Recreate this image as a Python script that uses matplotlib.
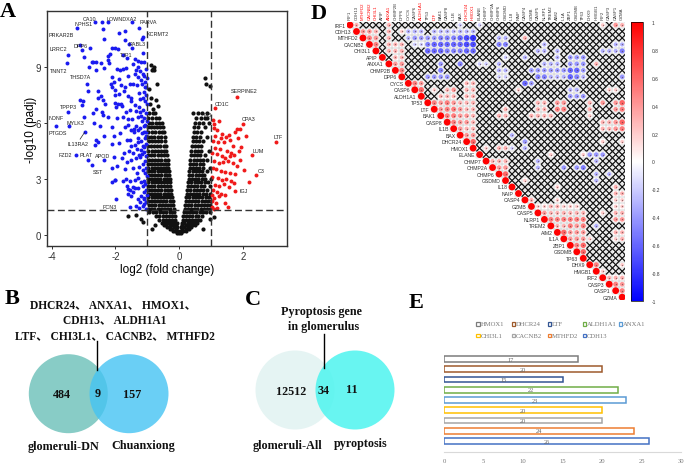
import matplotlib
matplotlib.use("Agg")
import matplotlib.pyplot as plt
from matplotlib.patches import Circle, Rectangle
from matplotlib.collections import LineCollection

plt.rcParams['font.family'] = ['Liberation Sans', 'DejaVu Sans']
plt.rcParams['axes.unicode_minus'] = False

SERIF = ['Liberation Serif', 'Noto Sans CJK SC']
W, H = 685, 464


# panel A: volcano, black points typed as rows (y level -> x values)
black_levels = [0.1, 0.2, 0.3, 0.4, 0.5, 0.6, 0.8, 1.0, 1.2, 1.4, 1.6, 1.8, 2.0, 2.2, 2.4, 2.6, 2.8, 3.0, 3.2,
                3.4, 3.6, 3.8, 4.0, 4.25, 4.5, 4.75, 5.0, 5.25, 5.5, 5.75, 6.0, 6.25, 6.5]
black_rows = [
    [-0.08, 0.0, 0.07],
    [-0.2, -0.12, -0.04, 0.05, 0.11, 0.2],
    [-0.3, -0.22, -0.1, 0.09, 0.22, 0.3],
    [-0.38, -0.28, -0.15, -0.06, 0.06, 0.14, 0.27, 0.38],
    [-0.48, -0.4, -0.3, -0.2, -0.1, 0.09, 0.2, 0.31, 0.4, 0.49],
    [-0.55, -0.45, -0.35, -0.25, -0.15, -0.08, 0.08, 0.16, 0.26, 0.36, 0.47, 0.55],
    [-0.62, -0.52, -0.42, -0.33, -0.23, -0.13, 0.11, 0.2, 0.3, 0.4, 0.5, 0.6, 0.66],
    [-0.72, -0.62, -0.52, -0.42, -0.33, -0.24, -0.14, 0.13, 0.22, 0.32, 0.41, 0.52, 0.6, 0.7],
    [-0.95, -0.82, -0.72, -0.6, -0.5, -0.4, -0.3, -0.22, -0.15, 0.15, 0.24, 0.34, 0.44, 0.54, 0.64, 0.75, 0.85, 0.95],
    [-0.98, -0.88, -0.78, -0.68, -0.58, -0.48, -0.38, -0.28, -0.18, 0.17, 0.27, 0.37, 0.47, 0.57, 0.67, 0.77, 0.87, 0.97],
    [-0.96, -0.85, -0.75, -0.65, -0.55, -0.45, -0.35, -0.26, -0.2, 0.19, 0.28, 0.38, 0.48, 0.58, 0.68, 0.78, 0.88, 0.98],
    [-0.99, -0.9, -0.8, -0.7, -0.6, -0.5, -0.4, -0.3, -0.21, 0.21, 0.3, 0.4, 0.5, 0.6, 0.7, 0.8, 0.9, 0.99],
    [-0.97, -0.87, -0.77, -0.67, -0.57, -0.47, -0.37, -0.28, -0.23, 0.22, 0.32, 0.42, 0.52, 0.62, 0.72, 0.83, 0.93],
    [-0.99, -0.89, -0.79, -0.69, -0.59, -0.49, -0.39, -0.31, -0.25, 0.24, 0.33, 0.43, 0.53, 0.63, 0.73, 0.85, 0.97],
    [-0.96, -0.86, -0.76, -0.66, -0.56, -0.46, -0.36, -0.26, 0.25, 0.35, 0.45, 0.55, 0.65, 0.75, 0.88],
    [-0.98, -0.88, -0.78, -0.68, -0.58, -0.48, -0.38, -0.28, 0.27, 0.37, 0.47, 0.57, 0.67, 0.78, 0.95],
    [-0.97, -0.87, -0.77, -0.67, -0.57, -0.47, -0.37, -0.29, 0.28, 0.38, 0.48, 0.58, 0.68, 0.8, 0.91],
    [-0.99, -0.89, -0.79, -0.69, -0.59, -0.49, -0.39, -0.3, 0.3, 0.4, 0.5, 0.6, 0.7, 0.82, 0.99],
    [-0.96, -0.86, -0.76, -0.66, -0.56, -0.46, -0.38, -0.31, 0.31, 0.41, 0.51, 0.61, 0.71, 0.79],
    [-0.98, -0.88, -0.78, -0.68, -0.58, -0.48, -0.4, -0.33, 0.32, 0.42, 0.52, 0.62, 0.72, 0.86],
    [-0.97, -0.87, -0.77, -0.67, -0.57, -0.47, -0.41, -0.34, 0.33, 0.43, 0.53, 0.63, 0.73, 0.96],
    [-0.99, -0.89, -0.79, -0.69, -0.59, -0.5, -0.43, -0.35, 0.34, 0.44, 0.54, 0.64, 0.74],
    [-0.96, -0.86, -0.76, -0.66, -0.56, -0.46, -0.36, 0.35, 0.45, 0.55, 0.65, 0.76, 0.88],
    [-0.98, -0.88, -0.78, -0.68, -0.58, -0.48, -0.38, 0.37, 0.46, 0.56, 0.66, 0.8],
    [-0.97, -0.87, -0.77, -0.67, -0.57, -0.47, -0.4, 0.38, 0.48, 0.58, 0.68, 0.92],
    [-0.99, -0.89, -0.79, -0.69, -0.59, -0.49, -0.42, 0.4, 0.5, 0.59, 0.69],
    [-0.96, -0.86, -0.76, -0.66, -0.56, -0.44, 0.42, 0.52, 0.62, 0.76],
    [-0.98, -0.88, -0.78, -0.68, -0.58, -0.46, 0.44, 0.54, 0.64, 0.87],
    [-0.97, -0.87, -0.77, -0.65, -0.55, -0.48, 0.46, 0.56, 0.68],
    [-0.99, -0.9, -0.8, -0.7, -0.6, -0.5, 0.47, 0.6, 0.82],
    [-0.96, -0.85, -0.74, -0.62, -0.55, 0.5, 0.63, 0.74, 0.93],
    [-0.98, -0.86, -0.72, -0.62, 0.52, 0.68, 0.8, 0.88],
    [-0.95, -0.82, -0.75, 0.44, 0.58, 0.72, 0.86],
]
# stray black points outside the main mass
black_x_extra = [-0.85, -0.9, -0.8, -0.82, -0.78, -0.7, -0.95, -0.88, -0.72, -0.92, -0.66, -0.83, -1.6, -1.35, -1.2, -1.15,
                 -0.85, -0.75, 1.1, 0.75, 0.95, 0.8, 0.98, 0.85]
black_y_extra = [8.8, 9.1, 9.0, 8.9, 8.85, 8.1, 7.8, 7.3, 7.2, 7.0, 6.9, 6.75, 1.0, 1.05, 0.85, 0.7,
                 0.3, 0.5, 0.95, 0.3, 0.85, 8.4, 7.95, 8.05]

blue_x = [-3.2, -2.64, -2.43, -2.24, -1.49, -1.25, -2.4, -1.9, -1.7, -1.13, -1.18, -2.36, -1.69, -1.57, -3.1, -2.8, -3.05,
          -3.48, -2.12, -2.02, -1.91, -1.47, -2.17, -2.25, -1.15, -1.75, -1.65, -3.0, -2.7, -2.6, -2.75, -2.25, -2.2,
          -2.45, -1.4, -1.3, -1.45, -1.1, -1.2, -3.52, -2.82, -2.6, -2.35, -1.95, -1.85, -1.75, -1.68, -1.35, -1.28,
          -1.22, -1.05, -1.15, -2.1, -2.05, -2.15, -1.9, -1.6, -1.4, -1.3, -1.2, -1.1, -1.02, -2.9, -2.85, -2.1, -2.03,
          -1.82, -1.7, -1.55, -1.45, -1.33, -1.18, -1.08, -1.03, -2.55, -2.45, -2.0, -1.88, -1.72, -1.6, -1.5, -1.25,
          -1.12, -1.05, -3.12, -3.02, -2.55, -2.4, -2.32, -2.0, -1.93, -1.82, -1.5, -1.4, -1.22, -1.07, -3.05, -2.6,
          -2.42, -1.98, -1.8, -1.68, -1.55, -1.35, -1.25, -1.15, -1.05, -3.5, -3.0, -2.72, -2.38, -2.25, -1.95, -1.75,
          -1.62, -1.47, -1.3, -1.2, -1.1, -1.02, -3.86, -3.45, -2.68, -2.5, -2.1, -1.7, -1.6, -1.5, -1.35, -1.22, -1.12,
          -1.05, -2.97, -2.6, -2.35, -2.05, -1.85, -1.55, -1.42, -1.3, -1.18, -1.08, -2.55, -2.1, -1.9, -1.65, -1.52,
          -1.38, -1.28, -1.15, -1.05, -2.65, -1.72, -1.58, -1.45, -1.32, -1.2, -1.1, -3.23, -2.85, -2.35, -2.05, -1.8,
          -1.65, -1.5, -1.35, -1.22, -1.08, -2.75, -2.12, -1.95, -1.7, -1.45, -1.25, -1.15, -1.03, -2.02, -1.68, -1.55,
          -1.4, -1.28, -1.12, -2.1, -2.0, -1.75, -1.6, -1.45, -1.3, -1.15, -1.05, -1.65, -1.55, -1.38, -1.2, -1.1, -1.0,
          -1.6, -1.5, -1.3, -1.12, -1.03, -1.98, -1.55, -1.35, -1.25, -1.1, -1.05,
          -1.08, -1.14, -1.02, -1.24, -1.17, -1.06, -1.3, -1.11, -1.04, -1.2, -1.42, -1.09, -1.16, -1.27, -1.03, -1.13,
          -1.07, -1.34, -1.01, -1.19, -1.1, -1.44, -1.06, -1.23, -1.14]
blue_y = [11.1, 11.4, 11.4, 11.4, 11.4, 11.1, 11.0, 10.8, 10.9, 10.6, 10.5, 10.5, 10.45, 10.2, 10.15, 10.0, 9.9,
          9.65, 10.0, 10.0, 9.95, 10.0, 9.7, 9.6, 9.75, 9.65, 9.45, 9.5, 9.25, 9.25, 9.25, 9.35, 9.2,
          9.2, 9.4, 9.3, 9.15, 9.25, 9.25, 9.2, 9.0, 8.8, 8.95, 8.9, 8.85, 8.9, 8.95, 8.8, 9.0,
          8.75, 8.9, 8.6, 8.45, 8.2, 8.1, 8.35, 8.5, 8.6, 8.45, 8.3, 8.5, 8.4, 8.1, 7.7, 7.9, 7.75,
          8.0, 7.9, 8.05, 8.1, 8.0, 8.1, 8.2, 7.9, 7.7, 7.45, 7.5, 7.55, 7.7, 7.45, 7.35, 7.6,
          7.65, 7.5, 7.2, 7.15, 7.3, 7.2, 7.0, 7.05, 7.0, 7.0, 7.15, 6.95, 7.25, 7.15, 6.95, 6.75,
          6.55, 6.85, 6.9, 6.6, 6.7, 6.65, 6.85, 6.7, 6.5, 6.55, 6.3, 6.5, 6.4, 6.3, 6.25, 6.3,
          6.2, 6.2, 6.3, 6.35, 6.25, 6.1, 5.85, 5.85, 6.0, 5.85, 5.75, 5.75, 5.9, 5.6, 5.85, 5.7, 5.8,
          5.5, 5.48, 5.1, 5.3, 5.3, 5.45, 5.1, 5.5, 5.2, 5.45, 5.2, 4.95, 4.85, 4.9, 5.05, 4.75,
          4.8, 4.95, 4.75, 4.85, 4.8, 4.4, 4.5, 4.4, 4.6, 4.55, 4.45, 4.25, 4.0, 4.0, 4.15, 4.1,
          3.9, 4.0, 4.1, 4.15, 3.95, 3.75, 3.6, 3.7, 3.5, 3.6, 3.65, 3.45, 3.55, 2.95, 3.0, 2.9,
          2.95, 3.05, 2.9, 2.85, 2.95, 2.9, 2.45, 2.55, 2.5, 2.6, 2.4, 2.6, 2.4, 2.5, 2.05, 1.95, 2.1,
          2.2, 2.05, 1.9, 1.9, 1.75, 1.9, 1.5, 1.55, 1.45, 1.65, 1.4,
          7.9, 7.3, 7.0, 6.6, 6.1, 5.9, 5.6, 5.5, 5.3, 5.0, 5.65, 4.7, 4.3, 4.25, 4.2, 3.8,
          3.3, 3.3, 3.15, 2.8, 2.3, 2.3, 2.7, 1.75, 1.55]

red_x = [1.8, 1.13, 2.0, 3.03, 2.27, 2.4, 2.2, 1.8, 1.9, 2.1, 1.05, 1.1, 1.25, 1.08, 1.18, 1.12, 1.3, 1.35, 1.55, 1.75, 1.48,
         1.6, 1.85, 1.05, 1.2, 1.4, 1.7, 1.95, 1.12, 1.28, 1.5, 1.62, 1.88, 1.02, 1.18, 1.35, 1.45, 1.58, 1.72, 1.9,
         1.08, 1.25, 1.38, 1.52, 1.68, 1.8, 2.03, 1.05, 1.15, 1.3, 1.42, 1.6, 1.75, 1.02, 1.2, 1.33, 1.48, 1.62, 1.72,
         1.12, 1.25, 1.4, 1.55, 1.75, 1.05, 1.18, 1.3, 1.45, 1.1, 1.25, 1.03, 1.15, 1.02, 1.08, 1.45, 1.52, 1.18, 1.02]
red_y = [7.4, 6.8, 5.95, 4.98, 4.25, 3.2, 2.8, 5.65, 5.65, 5.3, 6.15, 5.95, 6.1, 5.7, 5.6, 5.3, 5.2, 5.4, 5.35, 5.5, 5.25,
         5.05, 5.2, 5.0, 4.95, 4.95, 4.75, 4.7, 4.65, 4.6, 4.5, 4.4, 4.5, 4.4, 4.3, 4.2, 4.1, 4.2, 4.25, 4.0,
         3.95, 3.85, 3.9, 3.95, 3.85, 3.7, 3.45, 3.6, 3.5, 3.4, 3.35, 3.3, 3.25, 3.1, 3.05, 2.95, 3.0, 2.9, 2.75,
         2.65, 2.6, 2.7, 2.55, 2.35, 2.4, 2.3, 2.2, 2.1, 1.95, 2.05, 1.8, 1.7, 1.5, 1.35, 1.7, 1.5, 1.45, 2.1]

volcano_labels = ["CA10", "NPHS1", "LOWNDXA2", "PARVA", "PRKAR2B", "KCRMT2", "DPP6", "RABL3", "LRRC2", "TJP1", "TNNT2",
                  "THSD7A", "SERPINE2", "CD1C", "TPPP3", "NDNF", "MYLK3", "PTGDS", "IL13RA2", "FZD2", "PLAT", "APOD",
                  "SST", "FCN3", "CPA3", "LTF", "LUM", "C3", "IGJ", "PI3"]
label_x = [-2.8, -3.0, -1.82, -0.97, -3.7, -0.68, -3.11, -1.32, -3.78, -1.65, -3.79,
           -3.1, 2.03, 1.35, -3.49, -3.86, -3.26, -3.8, -3.17, -3.56, -2.93, -2.41,
           -2.54, -2.17, 2.18, 3.1, 2.47, 2.58, 2.03, 0.9]
label_y = [11.6, 11.33, 11.6, 11.4, 10.75, 10.8, 10.16, 10.23, 9.95, 9.66, 8.82,
           8.45, 7.71, 7.05, 6.89, 6.3, 6.02, 5.45, 4.89, 4.32, 4.32, 4.27,
           3.36, 1.5, 6.2, 5.25, 4.52, 3.46, 2.39, 6.45]

# panel D: correlation matrix, one list of (column, r) per row, cells not listed are crossed out
genes = ["IRF1", "CDH13", "MTHFD2", "CACNB2", "CHI3L1", "APIP", "ANXA1", "CHMP2B", "DPP6", "CYCS", "CASP6", "ALDH1A1",
         "TP53", "LTF", "BAK1", "CASP8", "IL1B", "BAX", "DHCR24", "HMOX1", "ELANE", "CHMP7", "CHMP2A", "CHMP6", "GSDMD",
         "IL18", "NAIP", "CASP4", "GZMB", "CASP5", "NLRP1", "TREM2", "AIM2", "IL1A", "ZBP1", "GSDMB", "TP63", "DHX9",
         "HMGB1", "IRF2", "CASP3", "CASP1", "GZMA"]
red_genes = ["MTHFD2", "CACNB2", "CHI3L1", "ANXA1", "ALDH1A1", "LTF", "DHCR24", "HMOX1"]
corr_cells = [
    [(1, .3), (6, .3), (17, -.2), (20, -.2), (39, .2), (41, .4), (42, .3)],
    [(2, .4), (3, .4), (4, .3), (6, .3), (8, .2), (9, -.3), (10, -.3), (11, -.3), (13, -.3), (14, -.3), (15, -.3), (16, -.3),
     (17, -.3), (18, -.3), (19, -.3)],
    [(3, .5), (4, .4), (6, .3), (9, -.3), (10, -.4), (11, -.4), (12, -.4), (13, -.4), (14, -.5), (15, -.5), (16, -.5),
     (17, -.6), (18, -.7), (19, -.8), (23, -.3), (24, -.3), (27, .3)],
    [(4, .5), (6, .3), (7, .3), (8, .3), (10, -.2), (11, -.2), (12, -.5), (13, -.6), (14, -.6), (15, -.6), (16, -.6),
     (17, -.6), (18, -.7), (19, -.7), (23, -.5), (24, -.5), (30, -.3), (41, -.3), (42, -.3)],
    [(6, .3), (7, .3), (8, .3), (12, -.6), (13, -.6), (14, -.6), (15, -.5), (16, -.5), (17, -.5), (18, -.6), (19, -.6),
     (29, -.3), (30, -.3), (32, -.3), (39, -.3), (40, -.3), (41, -.3), (42, -.5)],
    [(7, .3), (8, .3), (24, -.2), (27, -.3), (32, -.3), (34, -.4), (35, -.4), (36, -.4)],
    [(7, .4), (8, .4), (14, -.4), (17, -.5), (20, -.2), (21, -.2), (23, -.3), (30, -.3), (31, -.3), (32, -.3), (34, -.4),
     (35, -.4), (36, -.4), (38, .3)],
    [(8, .5), (14, -.5), (23, -.3), (24, -.3), (28, -.4), (29, -.4), (30, -.4), (31, -.4), (32, -.4), (33, -.4), (34, -.6),
     (35, -.6), (36, -.4)],
    [(12, -.4), (13, -.4), (14, -.4), (15, -.4), (23, -.2), (24, -.2), (29, -.5), (30, -.5), (31, -.3), (32, -.3), (33, -.3),
     (34, -.6), (35, -.5), (36, -.3), (42, -.4)],
    [(10, .5), (11, .4), (18, .3), (19, .3), (27, -.6), (28, -.4)],
    [(11, .6), (13, .2), (15, .3), (16, .4), (18, .3), (19, .3), (26, .2), (34, -.3), (35, -.3), (40, .2), (41, .2)],
    [(14, .3), (15, .3), (16, .3), (18, .3), (19, .3), (34, -.4), (35, -.4), (36, -.4)],
    [(13, .5), (14, .4), (15, .5), (16, .4), (17, .3), (18, .3), (19, .3), (29, .3), (30, .3), (32, .4), (33, .4), (37, .3),
     (39, .4), (41, .4), (42, .6)],
    [(14, .4), (15, .5), (16, .5), (17, .4), (18, .3), (19, .3), (24, .3), (29, .3), (30, .3), (32, .5), (33, .5), (37, .3),
     (41, .4), (42, .5)],
    [(15, .5), (16, .5), (17, .4), (18, .4), (19, .3), (23, .3), (24, .3), (28, .3), (29, .3), (30, .3), (31, .3), (37, .2)],
    [(16, .5), (17, .4), (18, .4), (19, .3), (39, .3), (40, .3), (41, .4), (42, .6)],
    [(17, .4), (18, .3), (19, .3), (39, .3), (40, .3), (41, .4), (42, .5)],
    [(18, .4), (19, .4), (25, -.3)],
    [(19, .6), (27, -.4), (39, .2), (42, .2)],
    [(21, .2), (23, .3), (24, .3), (25, -.2), (27, -.3)],
    [(31, .2), (36, .2), (37, -.4), (38, -.4), (39, -.4)],
    [(22, .3), (23, .3), (24, .3), (29, -.3), (38, -.3)],
    [(23, .4), (24, .4), (29, -.3), (33, -.4), (35, -.4), (36, -.5)],
    [(24, .6), (38, -.3), (40, -.3)],
    [(27, .2), (38, -.3)],
    [(32, .2), (41, .3)],
    [(41, .3), (42, .3)],
    [(28, .3), (32, .2), (41, .2), (42, .2)],
    [(29, .2), (30, .2), (31, .3), (32, .3), (33, .2), (34, .2), (35, .2), (41, .2), (42, .2)],
    [(30, .4), (31, .3), (32, .3), (33, .3), (34, .3), (35, .3), (36, .3), (39, .2), (41, .3), (42, .3)],
    [(31, .5), (32, .5), (33, .5), (34, .5), (35, .5), (36, .5), (41, .4), (42, .4)],
    [(32, .3), (33, .3), (34, .5), (35, .4), (36, .5), (38, -.3)],
    [(33, .6), (34, .4), (35, .4), (36, .4), (41, .3), (42, .3)],
    [(34, .4), (35, .4), (36, .4), (37, .2), (41, .2), (42, .3)],
    [(35, .5), (36, .6)],
    [(36, .6)],
    [],
    [(38, .5), (42, .2)],
    [(39, .2)],
    [(40, .3), (41, .3), (42, .3)],
    [(41, .5), (42, .4)],
    [(42, .5)],
    [],
]
cbar_ticks = [-1, -0.8, -0.6, -0.4, -0.2, 0, 0.2, 0.4, 0.6, 0.8, 1]

# panel E
bar_genes = ["HMOX1", "DHCR24", "LTF", "ALDH1A1", "ANXA1", "CHI3L1", "CACNB2", "MTHFD2", "CDH13"]
bar_values = [17, 20, 15, 22, 23, 20, 20, 24, 26]
bar_colors = ["#7C7C7C", "#9E5A2C", "#335593", "#70AD47", "#5B9BD5", "#FFC000", "#A5A5A5", "#ED7D31", "#4472C4"]


def px_axes(fig, left, top, right, bottom):
    return fig.add_axes([left / W, 1 - bottom / H, (right - left) / W, (bottom - top) / H])


fig = plt.figure(figsize=(6.85, 4.64), dpi=100)

# overlay in pixel units for venns, panel letters, legend of E
bg = fig.add_axes([0, 0, 1, 1])
bg.set_xlim(0, W)
bg.set_ylim(H, 0)
bg.axis("off")

for letter, lx, ly in [("A", 8, 12), ("B", 12, 299), ("C", 253, 300), ("D", 319, 14), ("E", 416, 303)]:
    bg.text(lx, ly, letter, family=SERIF, fontsize=16, fontweight="bold", ha="center", va="center")

# venn B
bg.add_patch(Circle((68.3, 394.7), 39.5, color="#88CCC6", lw=0))
bg.add_patch(Circle((129, 394.7), 39.5, color="#45C4F3", alpha=0.8, lw=0))
bg.plot([96.7, 96.7], [341.7, 370.7], color="black", lw=1)
# venn C
bg.add_patch(Circle((295, 391), 39.5, color="#E5F4F3", lw=0))
bg.add_patch(Circle((355, 391), 39.5, color="#4DF4EF", alpha=0.85, lw=0))
bg.plot([323.7, 323.7], [335, 369], color="black", lw=1)

top_texts = [("DHCR24、 ANXA1、 HMOX1、", 113, 305), ("CDH13、 ALDH1A1", 115, 320.7),
             ("LTF、 CHI3L1、 CACNB2、 MTHFD2", 115, 336)]
venn_texts = [("484", 62, 395), ("9", 97.3, 394), ("157", 131.7, 395.3),
              ("glomeruli-DN", 63.3, 446.7), ("Chuanxiong", 143.3, 445.7), ("Pyroptosis gene", 321.7, 311.7),
              ("in glomerulus", 323.3, 327.3), ("12512", 291, 392.3), ("34", 323.3, 391), ("11", 352.3, 390.3),
              ("glomeruli-All", 287.7, 446), ("pyroptosis", 361, 444)]
for txt, tx, ty in top_texts:
    bg.text(tx, ty, txt, family=SERIF, fontsize=8.3, fontweight="bold", ha="center", va="center", color="#111111")
for txt, tx, ty in venn_texts:
    bg.text(tx, ty, txt, family=SERIF, fontsize=8.7, fontweight="bold", ha="center", va="center", color="#111111")

# panel A
ax = px_axes(fig, 46.7, 12.3, 286.7, 246.7)
bx, by = [], []
for lev, row in zip(black_levels, black_rows):
    bx += row
    by += [lev] * len(row)
ax.scatter(bx + black_x_extra, by + black_y_extra, s=9, color="#111111", lw=0)
ax.scatter(blue_x, blue_y, s=8, color="#1A1AF0", lw=0)
ax.scatter(red_x, red_y, s=8, color="#F01A1A", lw=0)
ax.axhline(1.3, color="#333333", lw=1, ls=(0, (5, 2.5)))
ax.axvline(-1, color="#333333", lw=1, ls=(0, (5, 2.5)))
ax.axvline(1, color="#333333", lw=1, ls=(0, (5, 2.5)))
for name, lx, ly in zip(volcano_labels, label_x, label_y):
    ax.text(lx, ly, name, fontsize=3.9, ha="center", va="center", color="#222222")
ax.plot([-3.11, -2.97], [5.12, 5.48], color="#222222", lw=0.5)
ax.set_xlim(-4.157, 3.37)
ax.set_ylim(-0.59, 11.97)
ax.set_xticks([-4, -2, 0, 2])
ax.set_yticks([0, 3, 6, 9])
ax.tick_params(labelsize=7, length=2.5, width=0.7, pad=1.5, colors="#333333")
ax.set_xlabel("log2 (fold change)", fontsize=8.5, labelpad=1)
ax.set_ylabel("-log10 (padj)", fontsize=8.5, labelpad=-1)
for sp in ax.spines.values():
    sp.set_color("#333333")
    sp.set_linewidth(1)

# panel D
axd = px_axes(fig, 346.76, 22.76, 625.4, 301.4)
n = len(genes)
axd.set_xlim(-0.5, n - 0.5)
axd.set_ylim(n - 0.5, -0.5)
axd.axis("off")
grid = []
crosses = []
cx, cy, cv = [], [], []
for i, cells in enumerate(corr_cells):
    kept = dict(cells)
    kept[i] = 1.0
    for j in range(i, n):
        grid.append([(j - .5, i - .5), (j + .5, i - .5), (j + .5, i + .5), (j - .5, i + .5), (j - .5, i - .5)])
        if j in kept:
            cx.append(j)
            cy.append(i)
            cv.append(kept[j])
        else:
            crosses.append([(j - .5, i - .5), (j + .5, i + .5)])
            crosses.append([(j - .5, i + .5), (j + .5, i - .5)])
axd.add_collection(LineCollection(grid, colors="#CFCFCF", linewidths=0.35))
axd.add_collection(LineCollection(crosses, colors="#111111", linewidths=0.9))
sc = axd.scatter(cx, cy, s=[21 * abs(v) + 3 for v in cv], c=cv, cmap="bwr", vmin=-1, vmax=1, lw=0, zorder=3)
for v, x0, y0 in zip(cv, cx, cy):
    if abs(v) < 1:
        axd.plot(x0, y0, marker="o", ms=1, color="#553333", mew=0, alpha=0.6, zorder=4)
for i, g in enumerate(genes):
    col = "red" if g in red_genes else "#333333"
    axd.text(i - 0.75, i, g, fontsize=3.7, ha="right", va="center", color="#333333")
    axd.text(i, -0.95, g, fontsize=3.1, ha="center", va="bottom", rotation=90, color=col, clip_on=False)

cax = px_axes(fig, 631, 23, 643, 302)
cb = fig.colorbar(sc, cax=cax, ticks=cbar_ticks)
cb.ax.set_yticklabels([str(t) for t in cbar_ticks])
cb.ax.tick_params(labelsize=3.5, length=0, pad=6, colors="#333333")
cb.outline.set_linewidth(0.5)

# panel E
axe = px_axes(fig, 444, 354.9, 681, 453)
ypos = list(range(len(bar_values)))
axe.barh(ypos, bar_values, height=0.56, color="white", edgecolor=bar_colors, lw=1.1)
for y0, v in zip(ypos, bar_values):
    axe.text(v / 2, y0, str(v), family=SERIF, fontsize=4.6, ha="center", va="center", color="#666666")
axe.set_xlim(0, 30)
axe.set_ylim(9.07, -0.5)
axe.set_yticks([])
axe.set_xticks(range(0, 31, 5))
axe.tick_params(axis="x", length=0, labelsize=4.8, pad=4.5, colors="#777777")
for lab in axe.get_xticklabels():
    lab.set_family(SERIF)
for s in ["top", "left", "right"]:
    axe.spines[s].set_visible(False)
axe.spines["bottom"].set_color("#D9D9D9")

legend_x = [478, 513.7, 549.3, 584.7, 620.3, 478, 513.7, 549.3, 584.7]
legend_y = [325, 325, 325, 325, 325, 336.3, 336.3, 336.3, 336.3]
for g, c, lx, ly in zip(bar_genes, bar_colors, legend_x, legend_y):
    bg.add_patch(Rectangle((lx - 1.7, ly - 1.7), 3.4, 3.4, fc="white", ec=c, lw=0.9))
    bg.text(lx + 2.5, ly, g, family=SERIF, fontsize=4.8, ha="left", va="center", color="#777777")

fig.savefig("out.png", dpi=100)
